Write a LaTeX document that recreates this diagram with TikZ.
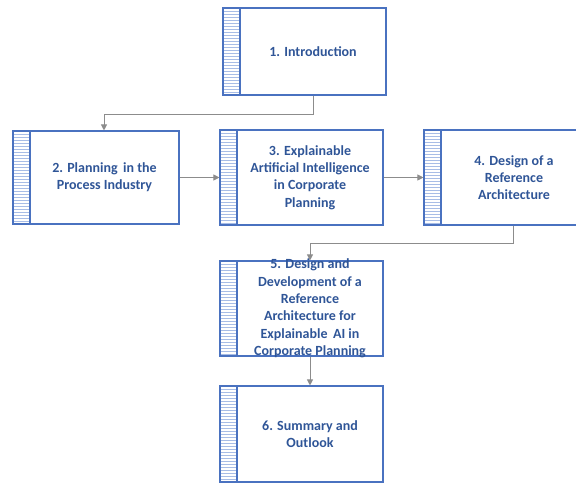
\documentclass[tikz,border=0pt]{standalone}
\usepackage{fontspec}
\setmainfont{Carlito}
\usetikzlibrary{arrows.meta}
\definecolor{boxline}{HTML}{4A72C0}
\definecolor{stripe}{HTML}{A8BDE6}
\definecolor{labeltext}{HTML}{2F5597}
\definecolor{flow}{HTML}{8C8C8C}
\tikzset{
  x=1pt, y=-1pt,
  chapter/.style={draw=boxline, line width=1.1pt, rectangle, inner sep=0pt,
    path picture={
      \foreach \k in {1,...,40}
        \draw[stripe, line width=0.6pt]
          ([yshift=-\k*3pt]path picture bounding box.north west) -- ++(17pt,0);
      \draw[boxline, line width=1.1pt]
          ([xshift=17pt]path picture bounding box.north west) --
          ([xshift=17pt]path picture bounding box.south west);
    }},
  chaptertext/.style={text=labeltext, font=\fontsize{14}{17.3}\selectfont\bfseries,
    align=center, inner sep=0pt},
  flowline/.style={draw=flow, line width=1pt, -{Triangle[length=6pt,width=6pt]}},
}
\begin{document}
\begin{tikzpicture}
\useasboundingbox (0,0) rectangle (576,483);
\clip (0,0) rectangle (576,483);

% chapter boxes
\node[chapter, minimum width=163pt, minimum height=87pt] (b1) at (304.5,51.5) {};
\node[chapter, minimum width=166pt, minimum height=93pt] (b2) at (96,177.5) {};
\node[chapter, minimum width=163pt, minimum height=95pt] (b3) at (301.5,177.5) {};
\node[chapter, minimum width=163pt, minimum height=95pt] (b4) at (505.5,177.5) {};
\node[chapter, minimum width=163pt, minimum height=95pt] (b5) at (301.5,308.5) {};
\node[chapter, minimum width=163pt, minimum height=96pt] (b6) at (301.5,434) {};

% chapter titles, centred right of the stripe
\node[chaptertext] (t1) at ([xshift=8.5pt]b1.center) {1. Introduction};
\node[chaptertext] (t2) at ([xshift=8.5pt]b2.center) {2. Planning\, in the\\Process Industry};
\node[chaptertext] (t3) at ([xshift=8.5pt]b3.center) {3. Explainable\\Artificial Intelligence\\in Corporate\\Planning};
\node[chaptertext] (t4) at ([xshift=8.5pt]b4.center) {4. Design of a\\Reference\\Architecture};
\node[chaptertext] (t5) at ([xshift=8.5pt,yshift=0pt]b5.center) {5. Design and\\Development of a\\Reference\\Architecture for\\Explainable\, AI in\\Corporate Planning};
\node[chaptertext] (t6) at ([xshift=8.5pt]b6.center) {6. Summary and\\Outlook};

% flow connectors
\coordinate (j1) at (313,114);
\coordinate (j4) at (513,243);
\draw[flowline] (b1.south -| j1) -- (j1) -- (j1 -| 104,0) -- (b2.north -| 104,0);
\draw[flowline] (b2.east) -- (b3.west);
\draw[flowline] (b3.east) -- (b4.west);
\draw[flowline] (b4.south -| j4) -- (j4) -- (j4 -| 310,0) -- (b5.north -| 310,0);
\draw[flowline] (b5.south -| 310,0) -- (b6.north -| 310,0);
\end{tikzpicture}
\end{document}
